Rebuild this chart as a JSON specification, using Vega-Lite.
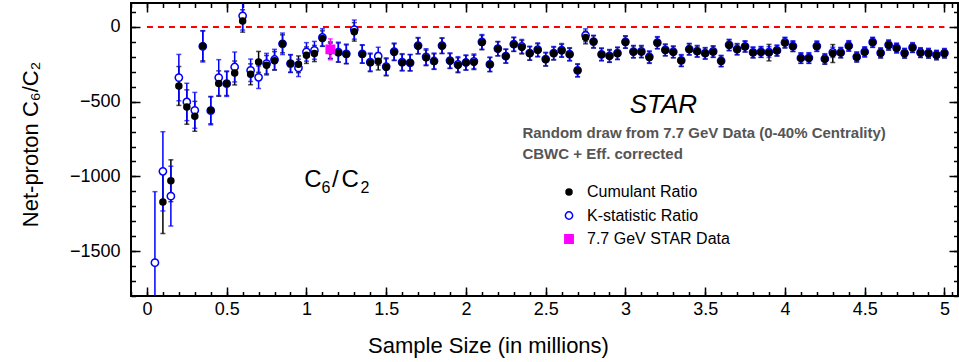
{
  "$schema": "https://vega.github.io/schema/vega-lite/v6.json",
  "width": 827,
  "height": 293,
  "autosize": {"type": "none"},
  "padding": {"left": 131, "top": 3, "right": 1, "bottom": 66},
  "background": "white",
  "config": {
    "view": {"stroke": "black", "strokeWidth": 2},
    "font": "Liberation Sans",
    "axis": {"grid": false, "labelColor": "black", "tickColor": "black", "titleColor": "black", "titleFontWeight": "normal", "labelFont": "Liberation Sans", "titleFont": "Liberation Sans"}
  },
  "datasets": {
    "one": [{}],
    "ref": [{"from": 0, "to": 5, "level": 0}],
    "pts": [
      {"x":0.05,"s":"K","y":-1577,"e":475},{"x":0.10,"s":"K","y":-966,"e":265},{"x":0.15,"s":"K","y":-1132,"e":200},{"x":0.20,"s":"K","y":-339,"e":155},{"x":0.25,"s":"K","y":-502,"e":125},{"x":0.30,"s":"K","y":-558,"e":120},{"x":0.35,"s":"K","y":-130,"e":105},{"x":0.40,"s":"K","y":-560,"e":95},{"x":0.45,"s":"K","y":-339,"e":120},{"x":0.50,"s":"K","y":-380,"e":85},
      {"x":0.55,"s":"K","y":-268,"e":100},{"x":0.60,"s":"K","y":74,"e":95},{"x":0.65,"s":"K","y":-290,"e":75},{"x":0.70,"s":"K","y":-337,"e":75},{"x":0.75,"s":"K","y":-245,"e":68},{"x":0.80,"s":"K","y":-218,"e":68},{"x":0.85,"s":"K","y":-113,"e":72},{"x":0.90,"s":"K","y":-245,"e":60},{"x":0.95,"s":"K","y":-274,"e":58},{"x":1.00,"s":"K","y":-167,"e":62},
      {"x":1.05,"s":"K","y":-157,"e":60},{"x":1.10,"s":"K","y":-70,"e":58},{"x":1.15,"s":"K","y":-155,"e":56},{"x":1.20,"s":"K","y":-168,"e":66},{"x":1.25,"s":"K","y":-180,"e":65},{"x":1.30,"s":"K","y":-18,"e":64},{"x":1.35,"s":"K","y":-180,"e":61},{"x":1.40,"s":"K","y":-235,"e":60},{"x":1.45,"s":"K","y":-196,"e":60},{"x":1.50,"s":"K","y":-265,"e":58},
      {"x":1.55,"s":"K","y":-165,"e":57},{"x":1.60,"s":"K","y":-235,"e":56},{"x":1.65,"s":"K","y":-240,"e":55},{"x":1.70,"s":"K","y":-125,"e":54},{"x":1.75,"s":"K","y":-200,"e":54},{"x":1.80,"s":"K","y":-228,"e":53},{"x":1.85,"s":"K","y":-125,"e":52},{"x":1.90,"s":"K","y":-225,"e":51},{"x":1.95,"s":"K","y":-250,"e":51},{"x":2.00,"s":"K","y":-238,"e":50},
      {"x":2.05,"s":"K","y":-230,"e":49},{"x":2.10,"s":"K","y":-100,"e":49},{"x":2.15,"s":"K","y":-250,"e":48},{"x":2.20,"s":"K","y":-145,"e":48},{"x":2.25,"s":"K","y":-195,"e":47},{"x":2.30,"s":"K","y":-115,"e":47},{"x":2.35,"s":"K","y":-130,"e":46},{"x":2.40,"s":"K","y":-175,"e":46},{"x":2.45,"s":"K","y":-152,"e":45},{"x":2.50,"s":"K","y":-215,"e":45},
      {"x":2.55,"s":"K","y":-175,"e":44},{"x":2.60,"s":"K","y":-155,"e":44},{"x":2.65,"s":"K","y":-182,"e":43},{"x":2.70,"s":"K","y":-290,"e":43},{"x":2.75,"s":"K","y":-56,"e":43},{"x":2.80,"s":"K","y":-98,"e":42},{"x":2.85,"s":"K","y":-183,"e":42},{"x":2.90,"s":"K","y":-193,"e":42},{"x":2.95,"s":"K","y":-176,"e":41},{"x":3.00,"s":"K","y":-100,"e":41},
      {"x":3.05,"s":"K","y":-165,"e":41},{"x":3.10,"s":"K","y":-164,"e":40},{"x":3.15,"s":"K","y":-200,"e":40},{"x":3.20,"s":"K","y":-105,"e":40},{"x":3.25,"s":"K","y":-153,"e":39},{"x":3.30,"s":"K","y":-166,"e":39},{"x":3.35,"s":"K","y":-224,"e":39},{"x":3.40,"s":"K","y":-148,"e":38},{"x":3.45,"s":"K","y":-162,"e":38},{"x":3.50,"s":"K","y":-176,"e":38},
      {"x":3.55,"s":"K","y":-164,"e":38},{"x":3.60,"s":"K","y":-227,"e":37},{"x":3.65,"s":"K","y":-120,"e":37},{"x":3.70,"s":"K","y":-148,"e":37},{"x":3.75,"s":"K","y":-130,"e":37},{"x":3.80,"s":"K","y":-170,"e":36},{"x":3.85,"s":"K","y":-167,"e":36},{"x":3.90,"s":"K","y":-168,"e":36},{"x":3.95,"s":"K","y":-157,"e":36},{"x":4.00,"s":"K","y":-104,"e":35},
      {"x":4.05,"s":"K","y":-128,"e":35},{"x":4.10,"s":"K","y":-208,"e":35},{"x":4.15,"s":"K","y":-207,"e":35},{"x":4.20,"s":"K","y":-128,"e":34},{"x":4.25,"s":"K","y":-213,"e":34},{"x":4.30,"s":"K","y":-170,"e":34},{"x":4.35,"s":"K","y":-171,"e":34},{"x":4.40,"s":"K","y":-126,"e":34},{"x":4.45,"s":"K","y":-200,"e":33},{"x":4.50,"s":"K","y":-166,"e":33},
      {"x":4.55,"s":"K","y":-102,"e":33},{"x":4.60,"s":"K","y":-173,"e":33},{"x":4.65,"s":"K","y":-120,"e":33},{"x":4.70,"s":"K","y":-140,"e":32},{"x":4.75,"s":"K","y":-175,"e":32},{"x":4.80,"s":"K","y":-137,"e":32},{"x":4.85,"s":"K","y":-171,"e":32},{"x":4.90,"s":"K","y":-175,"e":32},{"x":4.95,"s":"K","y":-187,"e":31},{"x":5.00,"s":"K","y":-175,"e":31},
      {"x":0.10,"s":"C","y":-1172,"e":210},{"x":0.15,"s":"C","y":-1029,"e":140},{"x":0.20,"s":"C","y":-395,"e":130},{"x":0.25,"s":"C","y":-536,"e":115},{"x":0.30,"s":"C","y":-598,"e":100},{"x":0.35,"s":"C","y":-127,"e":100},{"x":0.40,"s":"C","y":-558,"e":90},{"x":0.45,"s":"C","y":-379,"e":85},{"x":0.50,"s":"C","y":-379,"e":80},
      {"x":0.55,"s":"C","y":-308,"e":80},{"x":0.60,"s":"C","y":40,"e":75},{"x":0.65,"s":"C","y":-317,"e":70},{"x":0.70,"s":"C","y":-234,"e":70},{"x":0.75,"s":"C","y":-256,"e":65},{"x":0.80,"s":"C","y":-227,"e":62},{"x":0.85,"s":"C","y":-113,"e":60},{"x":0.90,"s":"C","y":-245,"e":58},{"x":0.95,"s":"C","y":-250,"e":56},{"x":1.00,"s":"C","y":-189,"e":55},
      {"x":1.05,"s":"C","y":-178,"e":54},{"x":1.10,"s":"C","y":-78,"e":52},{"x":1.15,"s":"C","y":-160,"e":52},{"x":1.20,"s":"C","y":-172,"e":64},{"x":1.25,"s":"C","y":-183,"e":63},{"x":1.30,"s":"C","y":-33,"e":62},{"x":1.35,"s":"C","y":-183,"e":60},{"x":1.40,"s":"C","y":-240,"e":59},{"x":1.45,"s":"C","y":-230,"e":58},{"x":1.50,"s":"C","y":-270,"e":57},
      {"x":1.55,"s":"C","y":-169,"e":56},{"x":1.60,"s":"C","y":-239,"e":55},{"x":1.65,"s":"C","y":-239,"e":54},{"x":1.70,"s":"C","y":-127,"e":53},{"x":1.75,"s":"C","y":-207,"e":52},{"x":1.80,"s":"C","y":-232,"e":52},{"x":1.85,"s":"C","y":-127,"e":51},{"x":1.90,"s":"C","y":-228,"e":50},{"x":1.95,"s":"C","y":-256,"e":50},{"x":2.00,"s":"C","y":-240,"e":49},
      {"x":2.05,"s":"C","y":-237,"e":48},{"x":2.10,"s":"C","y":-105,"e":48},{"x":2.15,"s":"C","y":-252,"e":47},{"x":2.20,"s":"C","y":-147,"e":47},{"x":2.25,"s":"C","y":-196,"e":46},{"x":2.30,"s":"C","y":-118,"e":46},{"x":2.35,"s":"C","y":-136,"e":45},{"x":2.40,"s":"C","y":-178,"e":45},{"x":2.45,"s":"C","y":-156,"e":44},{"x":2.50,"s":"C","y":-218,"e":44},
      {"x":2.55,"s":"C","y":-178,"e":43},{"x":2.60,"s":"C","y":-160,"e":43},{"x":2.65,"s":"C","y":-185,"e":42},{"x":2.70,"s":"C","y":-292,"e":42},{"x":2.75,"s":"C","y":-71,"e":42},{"x":2.80,"s":"C","y":-100,"e":41},{"x":2.85,"s":"C","y":-185,"e":41},{"x":2.90,"s":"C","y":-196,"e":41},{"x":2.95,"s":"C","y":-178,"e":40},{"x":3.00,"s":"C","y":-103,"e":40},
      {"x":3.05,"s":"C","y":-167,"e":40},{"x":3.10,"s":"C","y":-167,"e":39},{"x":3.15,"s":"C","y":-205,"e":39},{"x":3.20,"s":"C","y":-107,"e":39},{"x":3.25,"s":"C","y":-156,"e":38},{"x":3.30,"s":"C","y":-169,"e":38},{"x":3.35,"s":"C","y":-227,"e":38},{"x":3.40,"s":"C","y":-151,"e":37},{"x":3.45,"s":"C","y":-165,"e":37},{"x":3.50,"s":"C","y":-178,"e":37},
      {"x":3.55,"s":"C","y":-167,"e":37},{"x":3.60,"s":"C","y":-230,"e":36},{"x":3.65,"s":"C","y":-123,"e":36},{"x":3.70,"s":"C","y":-151,"e":36},{"x":3.75,"s":"C","y":-132,"e":36},{"x":3.80,"s":"C","y":-172,"e":35},{"x":3.85,"s":"C","y":-169,"e":35},{"x":3.90,"s":"C","y":-172,"e":55},{"x":3.95,"s":"C","y":-160,"e":35},{"x":4.00,"s":"C","y":-107,"e":34},
      {"x":4.05,"s":"C","y":-131,"e":34},{"x":4.10,"s":"C","y":-210,"e":34},{"x":4.15,"s":"C","y":-210,"e":34},{"x":4.20,"s":"C","y":-131,"e":33},{"x":4.25,"s":"C","y":-217,"e":33},{"x":4.30,"s":"C","y":-178,"e":60},{"x":4.35,"s":"C","y":-174,"e":33},{"x":4.40,"s":"C","y":-129,"e":33},{"x":4.45,"s":"C","y":-203,"e":32},{"x":4.50,"s":"C","y":-169,"e":32},
      {"x":4.55,"s":"C","y":-105,"e":32},{"x":4.60,"s":"C","y":-176,"e":32},{"x":4.65,"s":"C","y":-123,"e":32},{"x":4.70,"s":"C","y":-143,"e":31},{"x":4.75,"s":"C","y":-178,"e":31},{"x":4.80,"s":"C","y":-140,"e":31},{"x":4.85,"s":"C","y":-174,"e":31},{"x":4.90,"s":"C","y":-178,"e":31},{"x":4.95,"s":"C","y":-190,"e":30},{"x":5.00,"s":"C","y":-178,"e":30},
      {"x":1.15,"s":"S","y":-150,"e":70}
    ]
  },
  "resolve": {"axis": {"x": "independent", "y": "independent"}},
  "layer": [
    {
      "data": {"name": "pts"},
      "transform": [{"filter": "datum.s == 'C'"}],
      "mark": {"type": "errorbar", "color": "black", "thickness": 1.5, "ticks": {"size": 5, "thickness": 1.5, "color": "black"}, "clip": true},
      "encoding": {
        "x": {"field": "x", "type": "quantitative", "scale": {"domain": [-0.1, 5.085], "nice": false, "zero": false},
              "axis": {"orient": "bottom", "values": [0,0.5,1,1.5,2,2.5,3,3.5,4,4.5,5], "tickSize": -9, "tickWidth": 1.5, "labels": false, "domain": false, "title": null}},
        "y": {"field": "y", "type": "quantitative", "scale": {"domain": [-1800, 160], "nice": false, "zero": false},
              "axis": {"orient": "left", "values": [-1500,-1000,-500,0], "tickSize": -9, "tickWidth": 1.5, "labels": false, "domain": false, "title": null}},
        "yError": {"field": "e"}
      }
    },
    {
      "data": {"name": "pts"},
      "transform": [{"filter": "datum.s == 'K'"}],
      "mark": {"type": "errorbar", "color": "#0000ff", "thickness": 1.5, "ticks": {"size": 5, "thickness": 1.5, "color": "#0000ff"}, "clip": true},
      "encoding": {
        "x": {"field": "x", "type": "quantitative", "scale": {"domain": [-0.1, 5.085], "nice": false, "zero": false},
              "axis": {"orient": "bottom", "values": [-0.1,0,0.1,0.2,0.3,0.4,0.5,0.6,0.7,0.8,0.9,1,1.1,1.2,1.3,1.4,1.5,1.6,1.7,1.8,1.9,2,2.1,2.2,2.3,2.4,2.5,2.6,2.7,2.8,2.9,3,3.1,3.2,3.3,3.4,3.5,3.6,3.7,3.8,3.9,4,4.1,4.2,4.3,4.4,4.5,4.6,4.7,4.8,4.9,5,5.05], "tickSize": -4.5, "tickWidth": 1.5, "labels": false, "domain": false, "title": null}},
        "y": {"field": "y", "type": "quantitative", "scale": {"domain": [-1800, 160], "nice": false, "zero": false},
              "axis": {"orient": "left", "values": [-1800,-1700,-1600,-1500,-1400,-1300,-1200,-1100,-1000,-900,-800,-700,-600,-500,-400,-300,-200,-100,0,100], "tickSize": -4.5, "tickWidth": 1.5, "labels": false, "domain": false, "title": null}},
        "yError": {"field": "e"}
      }
    },
    {
      "data": {"name": "pts"},
      "transform": [{"filter": "datum.s == 'S'"}],
      "mark": {"type": "errorbar", "color": "#ff00ff", "thickness": 1.5, "ticks": {"size": 5, "thickness": 1.5, "color": "#ff00ff"}, "clip": true},
      "encoding": {
        "x": {"field": "x", "type": "quantitative", "scale": {"domain": [-0.1, 5.085], "nice": false, "zero": false},
              "axis": {"orient": "top", "values": [0,0.5,1,1.5,2,2.5,3,3.5,4,4.5,5], "tickSize": -9, "tickWidth": 1.5, "labels": false, "domain": false, "title": null}},
        "y": {"field": "y", "type": "quantitative", "scale": {"domain": [-1800, 160], "nice": false, "zero": false},
              "axis": {"orient": "right", "values": [-1500,-1000,-500,0], "tickSize": -9, "tickWidth": 1.5, "labels": false, "domain": false, "title": null}},
        "yError": {"field": "e"}
      }
    },
    {
      "data": {"name": "ref"},
      "mark": {"type": "rule", "color": "#ff0000", "strokeWidth": 2, "strokeDash": [6, 5]},
      "encoding": {
        "x": {"field": "from", "type": "quantitative", "scale": {"domain": [-0.1, 5.085], "nice": false, "zero": false},
              "axis": {"orient": "top", "values": [-0.1,0,0.1,0.2,0.3,0.4,0.5,0.6,0.7,0.8,0.9,1,1.1,1.2,1.3,1.4,1.5,1.6,1.7,1.8,1.9,2,2.1,2.2,2.3,2.4,2.5,2.6,2.7,2.8,2.9,3,3.1,3.2,3.3,3.4,3.5,3.6,3.7,3.8,3.9,4,4.1,4.2,4.3,4.4,4.5,4.6,4.7,4.8,4.9,5,5.05], "tickSize": -4.5, "tickWidth": 1.5, "labels": false, "domain": false, "title": null}},
        "x2": {"field": "to"},
        "y": {"field": "level", "type": "quantitative", "scale": {"domain": [-1800, 160], "nice": false, "zero": false},
              "axis": {"orient": "right", "values": [-1800,-1700,-1600,-1500,-1400,-1300,-1200,-1100,-1000,-900,-800,-700,-600,-500,-400,-300,-200,-100,0,100], "tickSize": -4.5, "tickWidth": 1.5, "labels": false, "domain": false, "title": null}}
      }
    },
    {
      "data": {"name": "pts"},
      "mark": {"type": "point", "opacity": 1, "strokeWidth": 1.5, "clip": true},
      "encoding": {
        "x": {"field": "x", "type": "quantitative", "scale": {"domain": [-0.1, 5.085], "nice": false, "zero": false},
              "axis": {"orient": "bottom", "values": [0,0.5,1,1.5,2,2.5,3,3.5,4,4.5,5], "format": "~g", "ticks": false, "domain": false, "labelFontSize": 18, "labelPadding": 4, "labelFlush": false, "labelOverlap": false,
                       "title": "Sample Size (in millions)", "titleFontSize": 22, "titleX": 357, "titleY": 56, "titleBaseline": "alphabetic", "titleAlign": "center"}},
        "y": {"field": "y", "type": "quantitative", "scale": {"domain": [-1800, 160], "nice": false, "zero": false},
              "axis": {"orient": "left", "values": [-1500,-1000,-500,0], "format": "d", "ticks": false, "domain": false, "labelFontSize": 18, "labelPadding": 11, "labelFlush": false, "labelOverlap": false,
                       "title": "Net-proton C₆/C₂", "titleFontSize": 22, "titleX": -94, "titleY": 141, "titleBaseline": "alphabetic", "titleAlign": "center", "titleAngle": -90}},
        "fill": {"field": "s", "type": "nominal", "scale": {"domain": ["C", "K", "S"], "range": ["black", "white", "#ff00ff"]},
                 "legend": {"title": null, "orient": "none", "legendX": 430, "legendY": 181, "labelFontSize": 16, "labelOffset": 10, "rowPadding": 7.5, "symbolStrokeWidth": 1.5,
                            "labelExpr": "datum.label == 'C' ? 'Cumulant Ratio' : datum.label == 'K' ? 'K-statistic Ratio' : '7.7 GeV STAR Data'"}},
        "stroke": {"field": "s", "type": "nominal", "scale": {"domain": ["C", "K", "S"], "range": ["black", "#0000ff", "#ff00ff"]},
                 "legend": {"title": null, "orient": "none", "legendX": 430, "legendY": 181, "labelFontSize": 16, "labelOffset": 10, "rowPadding": 7.5, "symbolStrokeWidth": 1.5,
                            "labelExpr": "datum.label == 'C' ? 'Cumulant Ratio' : datum.label == 'K' ? 'K-statistic Ratio' : '7.7 GeV STAR Data'"}},
        "shape": {"field": "s", "type": "nominal", "scale": {"domain": ["C", "K", "S"], "range": ["circle", "circle", "square"]},
                 "legend": {"title": null, "orient": "none", "legendX": 430, "legendY": 181, "labelFontSize": 16, "labelOffset": 10, "rowPadding": 7.5, "symbolStrokeWidth": 1.5,
                            "labelExpr": "datum.label == 'C' ? 'Cumulant Ratio' : datum.label == 'K' ? 'K-statistic Ratio' : '7.7 GeV STAR Data'"}},
        "size": {"field": "s", "type": "nominal", "scale": {"domain": ["C", "K", "S"], "range": [36, 70, 80]},
                 "legend": {"title": null, "orient": "none", "legendX": 430, "legendY": 181, "labelFontSize": 16, "labelOffset": 10, "rowPadding": 7.5, "symbolStrokeWidth": 1.5,
                            "labelExpr": "datum.label == 'C' ? 'Cumulant Ratio' : datum.label == 'K' ? 'K-statistic Ratio' : '7.7 GeV STAR Data'"}}
      }
    },
    {
      "data": {"name": "one"},
      "mark": {"type": "text", "text": "STAR", "fontSize": 26, "fontStyle": "italic", "align": "center", "baseline": "alphabetic", "color": "black"},
      "encoding": {
        "x": {"datum": 3.238, "type": "quantitative", "axis": null},
        "y": {"datum": -576, "type": "quantitative", "axis": null}
      }
    },
    {
      "data": {"name": "one"},
      "mark": {"type": "text", "text": "Random draw from 7.7 GeV Data (0-40% Centrality)", "fontSize": 15, "fontWeight": "bold", "align": "left", "baseline": "alphabetic", "color": "#555555"},
      "encoding": {
        "x": {"datum": 2.354, "type": "quantitative", "axis": null},
        "y": {"datum": -745, "type": "quantitative", "axis": null}
      }
    },
    {
      "data": {"name": "one"},
      "mark": {"type": "text", "text": "CBWC + Eff. corrected", "fontSize": 15, "fontWeight": "bold", "align": "left", "baseline": "alphabetic", "color": "#555555"},
      "encoding": {
        "x": {"datum": 2.354, "type": "quantitative", "axis": null},
        "y": {"datum": -886, "type": "quantitative", "axis": null}
      }
    },
    {
      "data": {"name": "one"},
      "mark": {"type": "text", "text": "C", "fontSize": 24, "align": "left", "baseline": "alphabetic", "color": "black"},
      "encoding": {
        "x": {"datum": 0.987, "type": "quantitative", "axis": null},
        "y": {"datum": -1073, "type": "quantitative", "axis": null}
      }
    },
    {
      "data": {"name": "one"},
      "mark": {"type": "text", "text": "6", "fontSize": 16, "align": "left", "baseline": "alphabetic", "color": "black"},
      "encoding": {
        "x": {"datum": 1.094, "type": "quantitative", "axis": null},
        "y": {"datum": -1113, "type": "quantitative", "axis": null}
      }
    },
    {
      "data": {"name": "one"},
      "mark": {"type": "text", "text": "/", "fontSize": 24, "align": "left", "baseline": "alphabetic", "color": "black"},
      "encoding": {
        "x": {"datum": 1.16, "type": "quantitative", "axis": null},
        "y": {"datum": -1073, "type": "quantitative", "axis": null}
      }
    },
    {
      "data": {"name": "one"},
      "mark": {"type": "text", "text": "C", "fontSize": 24, "align": "left", "baseline": "alphabetic", "color": "black"},
      "encoding": {
        "x": {"datum": 1.219, "type": "quantitative", "axis": null},
        "y": {"datum": -1073, "type": "quantitative", "axis": null}
      }
    },
    {
      "data": {"name": "one"},
      "mark": {"type": "text", "text": "2", "fontSize": 16, "align": "left", "baseline": "alphabetic", "color": "black"},
      "encoding": {
        "x": {"datum": 1.339, "type": "quantitative", "axis": null},
        "y": {"datum": -1113, "type": "quantitative", "axis": null}
      }
    }
  ]
}
